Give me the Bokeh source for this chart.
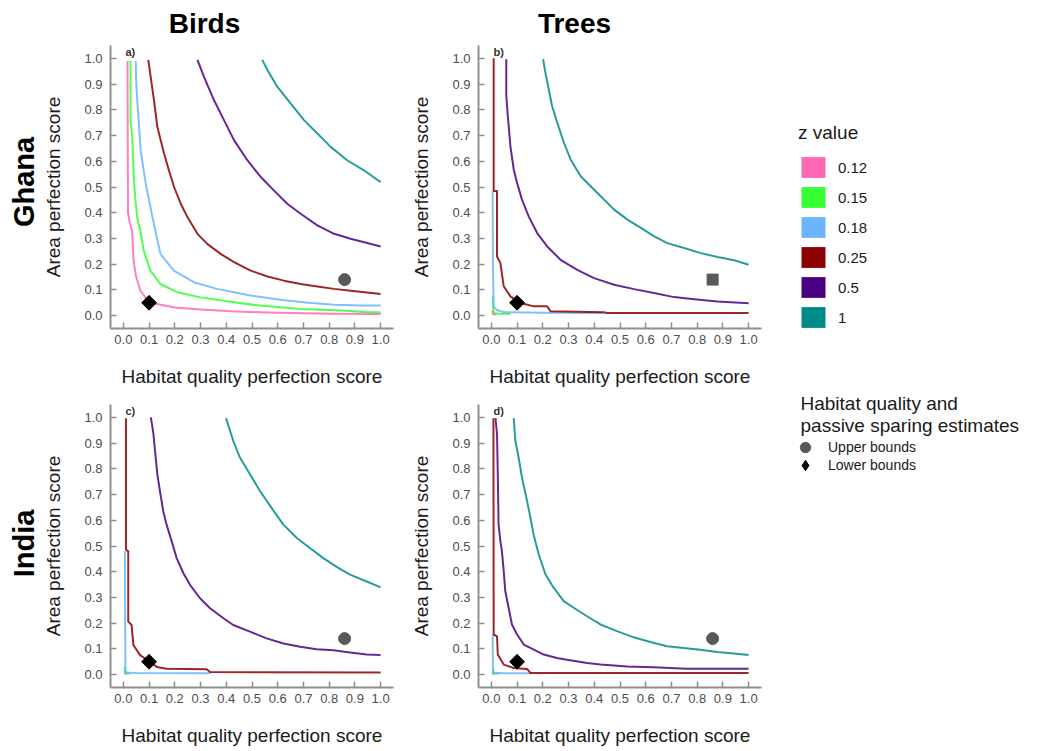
import math
from bokeh.plotting import figure
from bokeh.models import (Range1d, FixedTicker, PrintfTickFormatter, Label,
                          Legend, LegendItem)
from bokeh.layouts import row, column
from bokeh.embed import file_html
from bokeh.resources import INLINE

FONT = "Liberation Sans"

# ---------------- data ----------------
Z_LABELS = ["0.12", "0.15", "0.18", "0.25", "0.5", "1"]
Z_COLORS = ["#FF69B4", "#33FF33", "#6CB4FF", "#8B0000", "#4B0082", "#008B8B"]
TICKS = [0.0, 0.1, 0.2, 0.3, 0.4, 0.5, 0.6, 0.7, 0.8, 0.9, 1.0]
COL_TITLES = ["Birds", "Trees"]
ROW_TITLES = ["Ghana", "India"]

UPPER_HQ = [0.86]
UPPER_AREA = [0.14]
LOWER_HQ = [0.10]
LOWER_AREA = [0.05]

# Panel a) Ghana birds
A_X_012 = [0.016, 0.017, 0.018, 0.025, 0.034, 0.04, 0.05, 0.066, 0.09, 0.13, 0.2, 0.3, 0.42, 0.56, 0.7, 0.82, 1.0]
A_Y_012 = [0.99, 0.7, 0.40, 0.36, 0.33, 0.21, 0.15, 0.097, 0.065, 0.045, 0.032, 0.024, 0.017, 0.012, 0.009, 0.007, 0.006]
A_X_015 = [0.028, 0.028, 0.034, 0.041, 0.047, 0.054, 0.066, 0.079, 0.105, 0.144, 0.209, 0.30, 0.43, 0.53, 0.69, 0.85, 0.95, 1.0]
A_Y_015 = [0.99, 0.75, 0.70, 0.53, 0.45, 0.38, 0.33, 0.253, 0.175, 0.123, 0.091, 0.071, 0.052, 0.039, 0.026, 0.02, 0.013, 0.013]
A_X_018 = [0.048, 0.05, 0.054, 0.06, 0.067, 0.087, 0.113, 0.144, 0.196, 0.274, 0.364, 0.494, 0.624, 0.72, 0.82, 0.92, 1.0]
A_Y_018 = [0.99, 0.9, 0.838, 0.75, 0.643, 0.513, 0.383, 0.24, 0.175, 0.13, 0.104, 0.078, 0.06, 0.05, 0.042, 0.039, 0.039]
A_X_025 = [0.097, 0.106, 0.119, 0.132, 0.158, 0.177, 0.197, 0.223, 0.249, 0.288, 0.326, 0.378, 0.430, 0.495, 0.560, 0.624, 0.689, 0.754, 0.819, 0.883, 0.948, 1.0]
A_Y_025 = [0.994, 0.929, 0.838, 0.734, 0.630, 0.565, 0.5, 0.435, 0.383, 0.318, 0.279, 0.240, 0.208, 0.175, 0.152, 0.136, 0.123, 0.113, 0.104, 0.097, 0.09, 0.084]
A_X_05 = [0.288, 0.313, 0.352, 0.391, 0.430, 0.482, 0.534, 0.585, 0.637, 0.689, 0.754, 0.819, 0.883, 0.948, 1.0]
A_Y_05 = [0.994, 0.929, 0.838, 0.760, 0.682, 0.604, 0.539, 0.487, 0.435, 0.396, 0.351, 0.318, 0.299, 0.282, 0.269]
A_X_1 = [0.54, 0.56, 0.598, 0.65, 0.702, 0.754, 0.806, 0.87, 0.935, 1.0]
A_Y_1 = [0.994, 0.955, 0.89, 0.825, 0.760, 0.708, 0.656, 0.604, 0.565, 0.519]

# Panel b) Ghana trees
B_X_012 = [0.005, 0.006, 0.02]
B_Y_012 = [0.02, 0.006, 0.004]
B_X_015 = [0.006, 0.007, 0.012, 0.03, 0.074]
B_Y_015 = [0.075, 0.02, 0.009, 0.007, 0.006]
B_X_018 = [0.005, 0.006, 0.009, 0.02, 0.048, 0.2, 0.436]
B_Y_018 = [0.484, 0.2, 0.036, 0.022, 0.013, 0.011, 0.01]
B_X_025 = [0.009, 0.009, 0.022, 0.022, 0.035, 0.048, 0.074, 0.113, 0.165, 0.217, 0.23, 0.437, 0.45, 1.0]
B_Y_025 = [1.0, 0.484, 0.484, 0.23, 0.205, 0.114, 0.075, 0.049, 0.036, 0.036, 0.017, 0.013, 0.01, 0.01]
B_X_05 = [0.058, 0.058, 0.064, 0.074, 0.087, 0.1, 0.119, 0.145, 0.178, 0.217, 0.269, 0.334, 0.399, 0.477, 0.555, 0.632, 0.71, 0.788, 0.879, 1.0]
B_Y_05 = [0.997, 0.854, 0.776, 0.659, 0.568, 0.516, 0.451, 0.386, 0.321, 0.269, 0.217, 0.178, 0.146, 0.12, 0.103, 0.088, 0.072, 0.064, 0.055, 0.048]
B_X_1 = [0.201, 0.210, 0.223, 0.236, 0.256, 0.282, 0.308, 0.347, 0.386, 0.425, 0.477, 0.529, 0.581, 0.633, 0.684, 0.749, 0.814, 0.879, 0.944, 1.0]
B_Y_1 = [0.997, 0.945, 0.88, 0.815, 0.75, 0.672, 0.607, 0.542, 0.503, 0.464, 0.412, 0.373, 0.341, 0.308, 0.282, 0.263, 0.243, 0.228, 0.215, 0.198]

# Panel c) India birds
C_X_012 = [0.005, 0.006, 0.015]
C_Y_012 = [0.012, 0.004, 0.003]
C_X_015 = [0.005, 0.006, 0.01, 0.03]
C_Y_015 = [0.03, 0.01, 0.005, 0.004]
C_X_018 = [0.006, 0.007, 0.008, 0.012, 0.05, 0.338]
C_Y_018 = [0.481, 0.2, 0.02, 0.008, 0.006, 0.005]
C_X_025 = [0.01, 0.01, 0.019, 0.019, 0.032, 0.039, 0.065, 0.104, 0.13, 0.168, 0.324, 0.337, 1.0]
C_Y_025 = [0.997, 0.486, 0.479, 0.206, 0.193, 0.115, 0.076, 0.049, 0.03, 0.023, 0.021, 0.01, 0.008]
C_X_05 = [0.107, 0.117, 0.123, 0.132, 0.142, 0.155, 0.168, 0.188, 0.207, 0.233, 0.259, 0.298, 0.337, 0.389, 0.427, 0.492, 0.557, 0.622, 0.687, 0.751, 0.816, 0.881, 0.946, 1.0]
C_Y_05 = [1.0, 0.935, 0.87, 0.779, 0.714, 0.635, 0.583, 0.518, 0.453, 0.395, 0.349, 0.297, 0.258, 0.219, 0.193, 0.167, 0.141, 0.121, 0.108, 0.099, 0.095, 0.086, 0.078, 0.076]
C_X_1 = [0.399, 0.427, 0.453, 0.492, 0.531, 0.576, 0.622, 0.674, 0.725, 0.777, 0.829, 0.881, 0.946, 1.0]
C_Y_1 = [0.997, 0.909, 0.844, 0.779, 0.714, 0.648, 0.583, 0.531, 0.492, 0.453, 0.419, 0.389, 0.362, 0.339]

# Panel d) India trees
D_X_012 = [0.005, 0.006, 0.012]
D_Y_012 = [0.01, 0.003, 0.002]
D_X_015 = [0.005, 0.006, 0.01, 0.03]
D_Y_015 = [0.025, 0.008, 0.004, 0.003]
D_X_018 = [0.005, 0.006, 0.01, 0.05, 0.152]
D_Y_018 = [0.154, 0.03, 0.007, 0.005, 0.005]
D_X_025 = [0.008, 0.009, 0.022, 0.025, 0.048, 0.087, 0.139, 0.152, 1.0]
D_Y_025 = [0.997, 0.156, 0.149, 0.078, 0.039, 0.026, 0.022, 0.006, 0.006]
D_X_05 = [0.016, 0.022, 0.025, 0.028, 0.035, 0.041, 0.048, 0.054, 0.067, 0.080, 0.1, 0.126, 0.165, 0.203, 0.255, 0.294, 0.372, 0.424, 0.528, 0.631, 0.760, 1.0]
D_Y_05 = [0.997, 0.935, 0.779, 0.584, 0.519, 0.48, 0.403, 0.325, 0.260, 0.195, 0.156, 0.117, 0.097, 0.078, 0.065, 0.058, 0.045, 0.039, 0.032, 0.029, 0.023, 0.023]
D_X_1 = [0.087, 0.093, 0.106, 0.119, 0.136, 0.152, 0.164, 0.184, 0.210, 0.242, 0.281, 0.320, 0.372, 0.424, 0.488, 0.553, 0.618, 0.683, 0.747, 0.812, 0.877, 0.942, 1.0]
D_Y_1 = [0.997, 0.909, 0.844, 0.766, 0.688, 0.610, 0.545, 0.468, 0.390, 0.338, 0.286, 0.260, 0.227, 0.195, 0.169, 0.145, 0.127, 0.110, 0.104, 0.097, 0.088, 0.082, 0.076]

PANEL_A = [(A_X_012, A_Y_012), (A_X_015, A_Y_015), (A_X_018, A_Y_018), (A_X_025, A_Y_025), (A_X_05, A_Y_05), (A_X_1, A_Y_1)]
PANEL_B = [(B_X_012, B_Y_012), (B_X_015, B_Y_015), (B_X_018, B_Y_018), (B_X_025, B_Y_025), (B_X_05, B_Y_05), (B_X_1, B_Y_1)]
PANEL_C = [(C_X_012, C_Y_012), (C_X_015, C_Y_015), (C_X_018, C_Y_018), (C_X_025, C_Y_025), (C_X_05, C_Y_05), (C_X_1, C_Y_1)]
PANEL_D = [(D_X_012, D_Y_012), (D_X_015, D_Y_015), (D_X_018, D_Y_018), (D_X_025, D_Y_025), (D_X_05, D_Y_05), (D_X_1, D_Y_1)]

AXIS_GRAY = "#8f8f8f"


def blank_fig(w, h):
    f = figure(frame_width=w, frame_height=h,
               x_range=Range1d(0, w), y_range=Range1d(0, h),
               min_border=0, x_axis_location=None, y_axis_location=None,
               output_backend="svg", toolbar_location=None)
    f.grid.visible = False
    f.outline_line_color = None
    f.title.visible = False
    return f


def make_panel(curves, tag, left, right, top, bottom, upper_marker="circle"):
    p = figure(frame_width=283, frame_height=283,
               x_range=Range1d(-0.05, 1.05), y_range=Range1d(-0.05, 1.05),
               min_border_left=left, min_border_right=right,
               min_border_top=top, min_border_bottom=bottom,
               output_backend="svg", toolbar_location=None)
    p.title.visible = False
    p.grid.visible = False
    p.outline_line_color = None
    p.xaxis.axis_label = "Habitat quality perfection score"
    p.yaxis.axis_label = "Area perfection score"
    for ax in (p.xaxis[0], p.yaxis[0]):
        ax.ticker = FixedTicker(ticks=TICKS)
        ax.formatter = PrintfTickFormatter(format="%.1f")
        ax.axis_line_color = AXIS_GRAY
        ax.axis_line_width = 2
        ax.major_tick_line_color = AXIS_GRAY
        ax.major_tick_line_width = 1.5
        ax.major_tick_in = 6
        ax.major_tick_out = 0
        ax.minor_tick_line_color = None
        ax.major_label_text_font = FONT
        ax.major_label_text_font_size = "13px"
        ax.major_label_text_color = "#4d4d4d"
        ax.axis_label_text_font = FONT
        ax.axis_label_text_font_size = "19px"
        ax.axis_label_text_font_style = "normal"
        ax.axis_label_text_color = "#1a1a1a"
    p.xaxis.major_label_standoff = 6
    p.yaxis.major_label_standoff = 8
    p.xaxis.axis_label_standoff = 19
    p.yaxis.axis_label_standoff = 17

    for (xs, ys), c in zip(curves, Z_COLORS):
        p.line(xs, ys, line_color=c, line_width=2, line_alpha=0.85,
               line_join="round")

    p.scatter(UPPER_HQ, UPPER_AREA, marker=upper_marker,
              size=12 if upper_marker == "circle" else 11,
              fill_color="#595959", line_color="#595959")
    p.scatter(LOWER_HQ, LOWER_AREA, marker="square", angle=math.pi / 4,
              size=10.5, fill_color="black", line_color="black")

    p.add_layout(Label(x=0.008, y=1.025, text=tag, text_font=FONT,
                       text_font_size="11px", text_font_style="bold",
                       text_baseline="middle", text_align="left",
                       text_color="#333333"))
    return p


# header with column titles (pixel coordinates of a 770x45 strip)
header = blank_fig(770, 45)
for t, xc in zip(COL_TITLES, [204, 574]):
    header.add_layout(Label(x=xc, y=22, text=t, text_font=FONT,
                            text_font_size="28px", text_font_style="bold",
                            text_align="center", text_baseline="middle",
                            text_color="black"))

# left strip with row titles (pixel coordinates of a 40x706 strip)
side = blank_fig(40, 706)
for t, yc in zip(ROW_TITLES, [569.5, 208]):
    side.add_layout(Label(x=23, y=yc, text=t, text_font=FONT, angle=math.pi / 2,
                          text_font_size="29px", text_font_style="bold",
                          text_align="center", text_baseline="middle",
                          text_color="black"))

fa = make_panel(PANEL_A, "a)", 70, 7, 0, 62)
fb = make_panel(PANEL_B, "b)", 78, 9, 0, 62, upper_marker="square")
fc = make_panel(PANEL_C, "c)", 70, 7, 14, 64)
fd = make_panel(PANEL_D, "d)", 78, 9, 14, 64)

# ---------------- legend figure ----------------
lf = blank_fig(268, 751)

z_items = []
for lbl, c in zip(Z_LABELS, Z_COLORS):
    r = lf.quad(left=[0], right=[0], top=[0], bottom=[0],
                fill_color=c, line_color=None)
    z_items.append(LegendItem(label=lbl, renderers=[r]))

leg1 = Legend(items=z_items, location=(28, 421), title="z value",
              title_text_font=FONT, title_text_font_size="19px",
              title_text_font_style="normal", title_text_color="#1a1a1a",
              title_standoff=10,
              label_text_font=FONT, label_text_font_size="15px",
              label_text_color="#1a1a1a", label_standoff=10,
              glyph_width=30, glyph_height=26, label_height=26,
              spacing=4, padding=0, margin=0,
              border_line_color=None, background_fill_alpha=0)
lf.add_layout(leg1)

ru = lf.scatter(x=[0], y=[0], size=0, marker="circle",
                fill_color="#595959", line_color="#595959")
rl = lf.scatter(x=[0], y=[0], size=0, marker="diamond",
                fill_color="black", line_color="black")
for lbl, r, vy in [("Upper bounds", ru, 291), ("Lower bounds", rl, 273)]:
    lf.add_layout(Legend(items=[LegendItem(label=lbl, renderers=[r])],
                         location=(22, vy),
                         label_text_font=FONT, label_text_font_size="14px",
                         label_text_color="#1a1a1a", label_standoff=10,
                         glyph_width=26, glyph_height=26, label_height=26,
                         spacing=0, padding=0, margin=0,
                         border_line_color=None, background_fill_alpha=0))

lf.add_layout(Label(x=30, y=751 - 403, text="Habitat quality and",
                    text_font=FONT, text_font_size="19px",
                    text_baseline="middle", text_color="#1a1a1a"))
lf.add_layout(Label(x=30, y=751 - 425, text="passive sparing estimates",
                    text_font=FONT, text_font_size="19px",
                    text_baseline="middle", text_color="#1a1a1a"))

left_part = column(header, row(side, column(row(fa, fb), row(fc, fd))))
layout = row(left_part, lf)

open("out.html", "w").write(file_html(layout, INLINE))
